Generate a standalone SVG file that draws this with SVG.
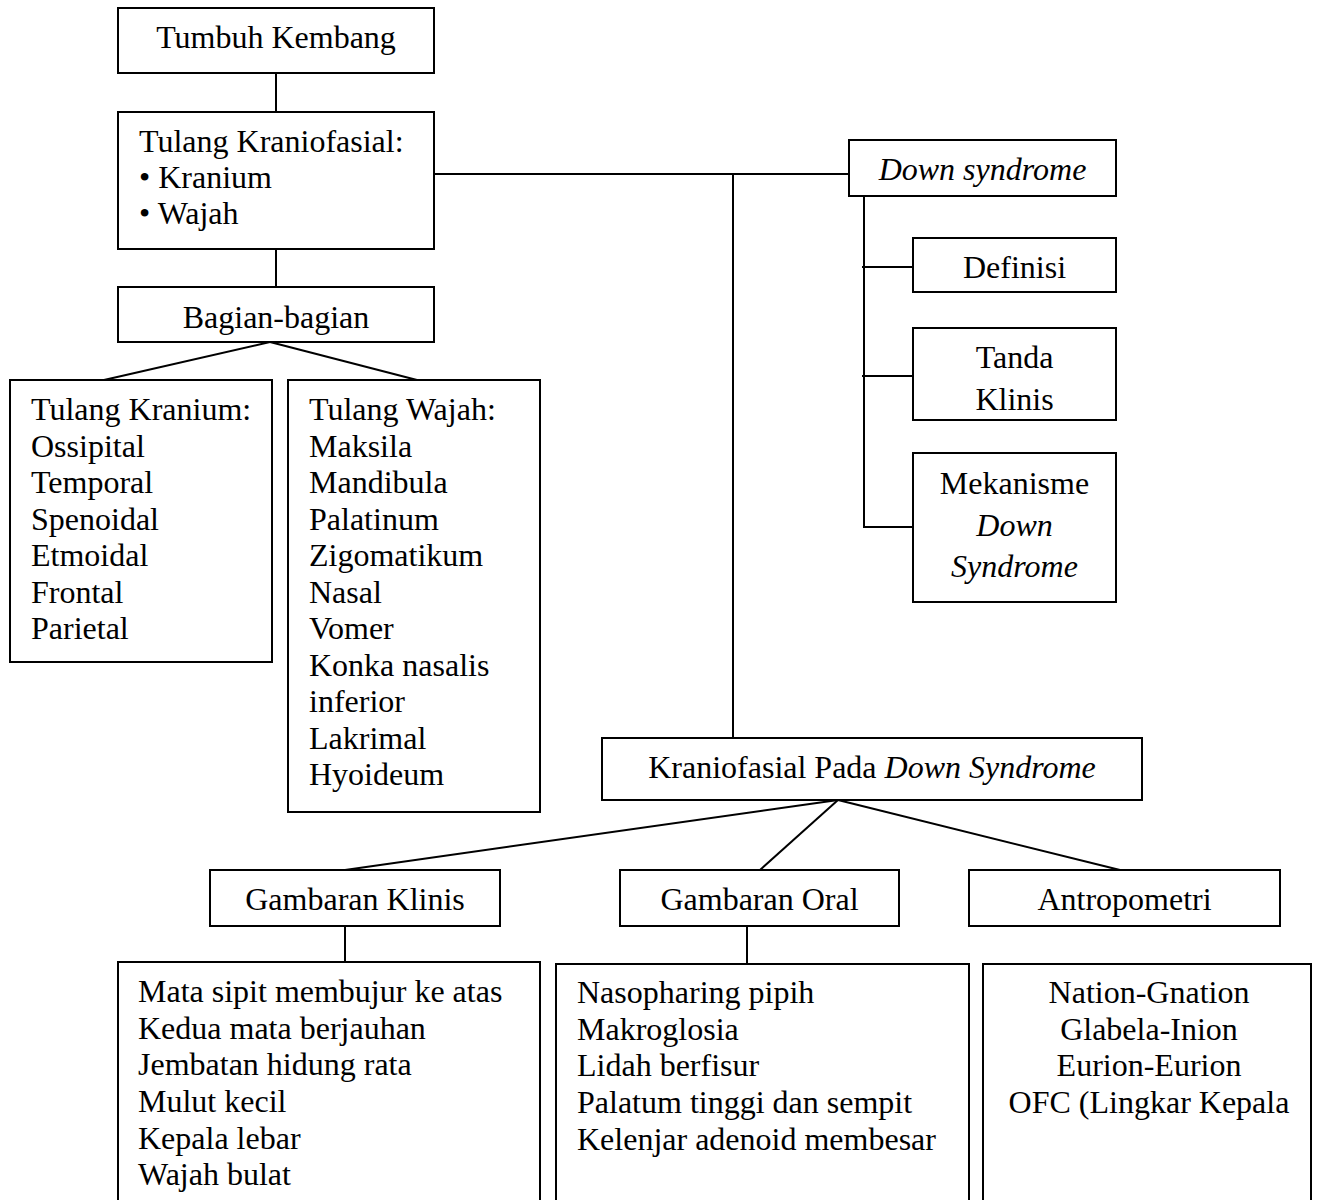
<svg xmlns="http://www.w3.org/2000/svg" width="1318" height="1200" viewBox="0 0 1318 1200">
<style>
.box{fill:#fff;stroke:#000;stroke-width:2}
.t{font-family:"Liberation Serif","Times New Roman",serif;font-size:32px;fill:#000}
.c{text-anchor:middle}
.i{font-style:italic}
.ln{fill:none;stroke:#000;stroke-width:2}
</style>
<rect width="1318" height="1200" fill="#fff"/>
<g id="connectors" class="ln">
<path d="M276 73V112"/>
<path d="M276 249V287"/>
<path d="M270 342L104 380"/>
<path d="M270 342L417 380"/>
<path d="M434 174H849"/>
<path d="M733 174V738"/>
<path d="M864 196V527H913"/>
<path d="M862 267H913"/>
<path d="M862 376H913"/>
<path d="M838 800L345 870"/>
<path d="M838 800L760 870"/>
<path d="M838 800L1120 870"/>
<path d="M345 926V962"/>
<path d="M747 926V964"/>
</g>
<g id="tumbuh-kembang">
<rect class="box" x="118" y="8" width="316" height="65"/>
<text class="t c" x="276" y="48">Tumbuh Kembang</text>
</g>
<g id="tulang-kraniofasial">
<rect class="box" x="118" y="112" width="316" height="137"/>
<text class="t" x="139" y="152">Tulang Kraniofasial:</text>
<text class="t" x="139" y="188">• Kranium</text>
<text class="t" x="139" y="224">• Wajah</text>
</g>
<g id="bagian-bagian">
<rect class="box" x="118" y="287" width="316" height="55"/>
<text class="t c" x="276" y="328">Bagian-bagian</text>
</g>
<g id="tulang-kranium">
<rect class="box" x="10" y="380" width="262" height="282"/>
<text class="t" x="31" y="420">Tulang Kranium:</text>
<text class="t" x="31" y="456.5">Ossipital</text>
<text class="t" x="31" y="493">Temporal</text>
<text class="t" x="31" y="529.5">Spenoidal</text>
<text class="t" x="31" y="566">Etmoidal</text>
<text class="t" x="31" y="602.5">Frontal</text>
<text class="t" x="31" y="639">Parietal</text>
</g>
<g id="tulang-wajah">
<rect class="box" x="288" y="380" width="252" height="432"/>
<text class="t" x="309" y="420">Tulang Wajah:</text>
<text class="t" x="309" y="456.5">Maksila</text>
<text class="t" x="309" y="493">Mandibula</text>
<text class="t" x="309" y="529.5">Palatinum</text>
<text class="t" x="309" y="566">Zigomatikum</text>
<text class="t" x="309" y="602.5">Nasal</text>
<text class="t" x="309" y="639">Vomer</text>
<text class="t" x="309" y="675.5">Konka nasalis</text>
<text class="t" x="309" y="712">inferior</text>
<text class="t" x="309" y="748.5">Lakrimal</text>
<text class="t" x="309" y="785">Hyoideum</text>
</g>
<g id="down-syndrome">
<rect class="box" x="849" y="140" width="267" height="56"/>
<text class="t c i" x="982.5" y="180">Down syndrome</text>
</g>
<g id="definisi">
<rect class="box" x="913" y="238" width="203" height="54"/>
<text class="t c" x="1014.5" y="278">Definisi</text>
</g>
<g id="tanda-klinis">
<rect class="box" x="913" y="328" width="203" height="92"/>
<text class="t c" x="1014.5" y="368">Tanda</text>
<text class="t c" x="1014.5" y="409.5">Klinis</text>
</g>
<g id="mekanisme">
<rect class="box" x="913" y="453" width="203" height="149"/>
<text class="t c" x="1014.5" y="493.5">Mekanisme</text>
<text class="t c i" x="1014.5" y="535.5">Down</text>
<text class="t c i" x="1014.5" y="577">Syndrome</text>
</g>
<g id="kraniofasial-pada">
<rect class="box" x="602" y="738" width="540" height="62"/>
<text class="t c" x="872" y="778">Kraniofasial Pada <tspan class="i">Down Syndrome</tspan></text>
</g>
<g id="gambaran-klinis">
<rect class="box" x="210" y="870" width="290" height="56"/>
<text class="t c" x="355" y="910">Gambaran Klinis</text>
</g>
<g id="gambaran-oral">
<rect class="box" x="620" y="870" width="279" height="56"/>
<text class="t c" x="759.5" y="910">Gambaran Oral</text>
</g>
<g id="antropometri">
<rect class="box" x="969" y="870" width="311" height="56"/>
<text class="t c" x="1124.5" y="910">Antropometri</text>
</g>
<g id="klinis-list">
<rect class="box" x="118" y="962" width="422" height="250"/>
<text class="t" x="138" y="1002">Mata sipit membujur ke atas</text>
<text class="t" x="138" y="1038.5">Kedua mata berjauhan</text>
<text class="t" x="138" y="1075">Jembatan hidung rata</text>
<text class="t" x="138" y="1112">Mulut kecil</text>
<text class="t" x="138" y="1148.5">Kepala lebar</text>
<text class="t" x="138" y="1185">Wajah bulat</text>
</g>
<g id="oral-list">
<rect class="box" x="556" y="964" width="413" height="250"/>
<text class="t" x="577" y="1003">Nasopharing pipih</text>
<text class="t" x="577" y="1039.5">Makroglosia</text>
<text class="t" x="577" y="1076">Lidah berfisur</text>
<text class="t" x="577" y="1113">Palatum tinggi dan sempit</text>
<text class="t" x="577" y="1150">Kelenjar adenoid membesar</text>
</g>
<g id="antropometri-list">
<rect class="box" x="983" y="964" width="328" height="250"/>
<text class="t c" x="1149" y="1003">Nation-Gnation</text>
<text class="t c" x="1149" y="1039.5">Glabela-Inion</text>
<text class="t c" x="1149" y="1076">Eurion-Eurion</text>
<text class="t c" x="1149" y="1113">OFC (Lingkar Kepala</text>
</g>
</svg>
